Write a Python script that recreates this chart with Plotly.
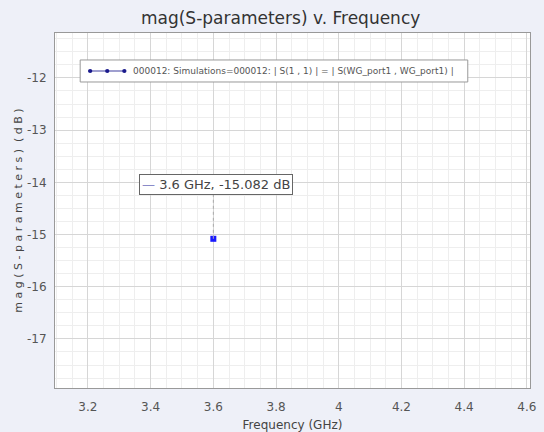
import plotly.graph_objects as go

freq_ghz = [3.6]
s11_db = [-15.082]
series_name = "000012: Simulations=000012: | S(1 , 1) | = | S(WG_port1 , WG_port1) |"
x_ticks = [3.2, 3.4, 3.6, 3.8, 4.0, 4.2, 4.4, 4.6]
x_ticklabels = ["3.2", "3.4", "3.6", "3.8", "4", "4.2", "4.4", "4.6"]
y_ticks = [-12, -13, -14, -15, -16, -17]
y_ticklabels = ["-12", "-13", "-14", "-15", "-16", "-17"]

FONT = "DejaVu Sans"
fig = go.Figure()
fig.add_trace(go.Scatter(
    x=freq_ghz, y=s11_db, mode="markers",
    marker=dict(color="#1a1aff", size=6, symbol="square"),
    showlegend=False, name=series_name))

# dashed marker line from point up to the data label
fig.add_shape(type="line", xref="x", yref="y",
              x0=freq_ghz[0], x1=freq_ghz[0], y0=s11_db[0], y1=-14.22,
              line=dict(color="#aaaaaa", width=1, dash="dot"))

# data label
fig.add_annotation(
    x=freq_ghz[0], y=-14.05, xref="x", yref="y", showarrow=False,
    xanchor="center", xshift=3,
    text="<span style='color:#8a8ac8'>—</span> %g GHz, %.3f dB" % (freq_ghz[0], s11_db[0]),
    font=dict(family=FONT, size=13, color="#444444"),
    bgcolor="white", bordercolor="#666666", borderwidth=1, borderpad=2)

# legend (custom drawn)
lx0, lx1, ly0, ly1 = 0.053, 0.869, 0.862, 0.924
fig.add_shape(type="rect", xref="paper", yref="paper", x0=lx0, x1=lx1, y0=ly0, y1=ly1,
              line=dict(color="#999999", width=1), fillcolor="white", layer="above")
ly = (ly0 + ly1) / 2
fig.add_shape(type="line", xref="paper", yref="paper", x0=0.07, x1=0.148, y0=ly, y1=ly,
              line=dict(color="#4040a0", width=1.2), layer="above")
for px in [0.074, 0.110, 0.146]:
    fig.add_shape(type="circle", xref="paper", yref="paper",
                  x0=px - 0.0045, x1=px + 0.0045, y0=ly - 0.0055, y1=ly + 0.0055,
                  fillcolor="#1a1a8c", line=dict(color="#1a1a8c", width=0), layer="above")
fig.add_annotation(x=0.16, y=ly, xref="paper", yref="paper", showarrow=False,
                   xanchor="left", yanchor="middle", text=series_name,
                   font=dict(family=FONT, size=9.0, color="#555555"))

fig.update_layout(
    width=544, height=432,
    margin=dict(l=55, r=14, t=33, b=44),
    paper_bgcolor="#eef0f8", plot_bgcolor="white",
    title=dict(text="mag(S-parameters) v. Frequency", x=0.475, xref="paper", xanchor="center",
               y=0.958, yanchor="middle",
               font=dict(family=FONT, size=17, color="#333333")),
    xaxis=dict(range=[3.095, 4.61], tickvals=x_ticks, ticktext=x_ticklabels,
               showgrid=True, gridcolor="#d6d6d6", gridwidth=1,
               minor=dict(dtick=0.05, showgrid=True, gridcolor="#eeeeee"),
               zeroline=False, showline=True, linecolor="#999999", mirror=True,
               ticks="", ticklabelstandoff=8, automargin=False,
               tickfont=dict(family=FONT, size=12, color="#555555"),
               title=dict(text="Frequency (GHz)", standoff=7,
                          font=dict(family=FONT, size=12, color="#444444"))),
    yaxis=dict(range=[-17.94, -11.14], tickvals=y_ticks, ticktext=y_ticklabels,
               showgrid=True, gridcolor="#d6d6d6", gridwidth=1,
               minor=dict(dtick=0.25, showgrid=True, gridcolor="#eeeeee"),
               zeroline=False, showline=True, linecolor="#999999", mirror=True,
               ticks="", ticklabelstandoff=5, automargin=False,
               tickfont=dict(family=FONT, size=12, color="#555555"),
               title=dict(text="m a g ( S - p a r a m e t e r s )  ( d B )", standoff=2,
                          font=dict(family=FONT, size=11, color="#444444"))),
)

fig.write_html("out.html")
